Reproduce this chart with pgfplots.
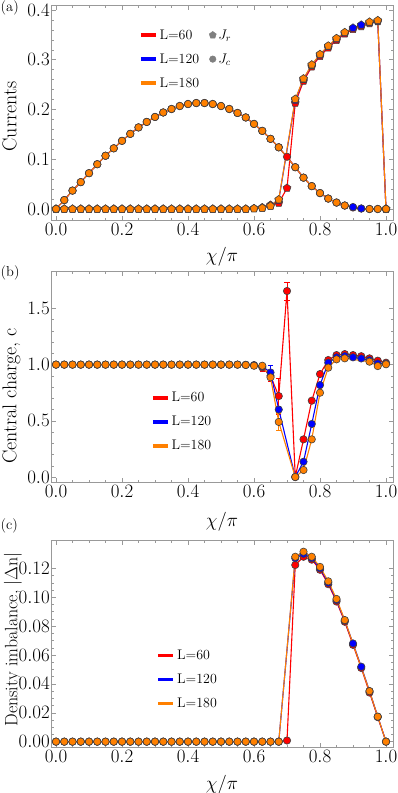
\RequirePackage{fix-cm}
\documentclass[border=0pt]{standalone}
\usepackage{pgfplots}
\usepackage{pgfplotstable}
\pgfplotsset{compat=1.18}
\usetikzlibrary{plotmarks}
\definecolor{mred}{rgb}{1,0,0}
\definecolor{mblue}{rgb}{0,0,1}
\definecolor{morange}{rgb}{1,0.5,0}

\pgfplotstableread{
x c60 c120 c180 r60 r120 r180
0.000 0.000 0.000 0.000 0 0 0
0.025 0.018 0.018 0.018 0 0 0
0.050 0.037 0.037 0.037 0 0 0
0.075 0.054 0.054 0.054 0 0 0
0.100 0.072 0.072 0.072 0 0 0
0.125 0.090 0.090 0.090 0 0 0
0.150 0.107 0.107 0.107 0 0 0
0.175 0.122 0.122 0.122 0 0 0
0.200 0.137 0.137 0.137 0 0 0
0.225 0.151 0.151 0.151 0 0 0
0.250 0.164 0.164 0.164 0 0 0
0.275 0.175 0.175 0.175 0 0 0
0.300 0.185 0.185 0.185 0 0 0
0.325 0.194 0.194 0.194 0 0 0
0.350 0.201 0.201 0.201 0 0 0
0.375 0.207 0.207 0.207 0 0 0
0.400 0.211 0.211 0.211 0 0 0
0.425 0.213 0.213 0.213 0 0 0
0.450 0.213 0.213 0.213 0 0 0
0.475 0.211 0.211 0.211 0 0 0
0.500 0.207 0.207 0.207 0 0 0
0.525 0.201 0.201 0.201 0 0 0
0.550 0.193 0.193 0.193 0 0 0
0.575 0.184 0.184 0.184 0 0 0
0.600 0.171 0.171 0.171 0.001 0.001 0.001
0.625 0.157 0.157 0.157 0.003 0.002 0.002
0.650 0.141 0.141 0.141 0.008 0.006 0.006
0.675 0.124 0.124 0.124 0.012 0.018 0.019
0.700 0.105 nan nan 0.042 nan nan
0.725 0.084 0.084 0.084 0.213 0.219 0.221
0.750 0.063 0.063 0.063 0.257 0.261 0.262
0.775 0.046 0.046 0.046 0.286 0.289 0.290
0.800 0.032 0.032 0.032 0.307 0.310 0.311
0.825 0.021 0.021 0.021 0.324 0.327 0.328
0.850 0.013 0.013 0.013 0.339 0.342 0.343
0.875 0.007 0.007 0.007 0.352 0.354 0.355
0.900 0.003 0.004 nan 0.361 0.364 nan
0.925 0.001 0.001 nan 0.367 0.370 nan
0.950 0.000 0.000 0.000 0.373 0.375 0.376
0.975 0.000 0.000 0.000 0.377 0.378 0.379
1.000 0.000 0.000 0.000 0 0 0
}\tabA

\pgfplotstableread{
x b60 b120 b180
0.000 1.000 1.000 1.000
0.025 1.000 1.000 1.000
0.050 1.000 1.000 1.000
0.075 1.000 1.000 1.000
0.100 1.000 1.000 1.000
0.125 1.000 1.000 1.000
0.150 1.000 1.000 1.000
0.175 1.000 1.000 1.000
0.200 1.000 1.000 1.000
0.225 1.000 1.000 1.000
0.250 1.000 1.000 1.000
0.275 1.000 1.000 1.000
0.300 1.000 1.000 1.000
0.325 1.000 1.000 1.000
0.350 1.000 1.000 1.000
0.375 1.000 1.000 1.000
0.400 1.000 1.000 1.000
0.425 1.000 1.000 1.000
0.450 1.000 1.000 1.000
0.475 1.000 1.000 1.000
0.500 1.000 1.000 1.000
0.525 1.000 1.000 1.000
0.550 1.000 1.000 1.000
0.575 0.998 0.998 0.997
0.600 0.995 0.995 0.990
0.625 0.975 0.985 0.990
0.650 0.900 0.930 0.887
0.675 0.720 0.600 0.490
0.700 1.655 nan nan
0.725 0.000 0.000 0.000
0.750 0.335 0.136 0.062
0.775 0.679 0.472 0.335
0.800 0.916 0.818 0.750
0.825 1.041 1.017 0.973
0.850 1.085 1.065 1.047
0.875 1.094 1.076 1.056
0.900 1.085 1.065 nan
0.925 1.075 1.055 nan
0.950 1.056 1.040 1.026
0.975 1.035 1.010 0.987
1.000 1.017 1.008 1.003
}\tabB

\pgfplotstableread{
x d60 d120 d180
0.000 0 0 0
0.025 0 0 0
0.050 0 0 0
0.075 0 0 0
0.100 0 0 0
0.125 0 0 0
0.150 0 0 0
0.175 0 0 0
0.200 0 0 0
0.225 0 0 0
0.250 0 0 0
0.275 0 0 0
0.300 0 0 0
0.325 0 0 0
0.350 0 0 0
0.375 0 0 0
0.400 0 0 0
0.425 0 0 0
0.450 0 0 0
0.475 0 0 0
0.500 0 0 0
0.525 0 0 0
0.550 0 0 0
0.575 0 0 0
0.600 0 0 0
0.625 0 0 0
0.650 0 0 0
0.675 0 0 0
0.700 0.0008 nan nan
0.725 0.1223 0.1270 0.1280
0.750 0.1280 0.1300 0.1315
0.775 0.1260 0.1270 0.1280
0.800 0.1190 0.1200 0.1210
0.825 0.1090 0.1100 0.1110
0.850 0.0970 0.0980 0.0988
0.875 0.0830 0.0838 0.0842
0.900 0.0670 0.0680 nan
0.925 0.0510 0.0519 nan
0.950 0.0340 0.0350 0.0350
0.975 0.0170 0.0173 0.0173
1.000 0 0 0
}\tabC

\pgfplotsset{
  panel/.style={
    scale only axis, width=342bp,
    xmin=-0.0152, xmax=1.0212,
    xtick={0,0.2,0.4,0.6,0.8,1},
    minor x tick num=3,
    axis line style={draw=black!40},
    tick style={draw=black!40, line width=0.5bp},
    major tick length=4.5bp, minor tick length=2.5bp,
    tick align=inside,
    xticklabel style={/pgf/number format/.cd, fixed, fixed zerofill, precision=1},
    tick label style={font=\fontsize{19}{19}\selectfont},
    yticklabel style={inner xsep=1bp},
    ylabel style={font=\fontsize{20}{20}\selectfont},
    xlabel style={font=\fontsize{19}{19}\selectfont},
    xlabel={$\chi/\pi$},
    legend style={draw=none, fill=none, font=\fontsize{14}{16}\selectfont, anchor=north west, row sep=9bp},
    legend cell align=left,
    unbounded coords=discard,
  },
  ser/.style={color=#1, line width=1.1bp, mark=*, mark size=3.7bp,
    mark options={fill=#1, draw=black!75, line width=0.6bp, solid}},
  serp/.style={color=#1, line width=1.1bp, mark=pentagon*, mark size=4.1bp,
    mark options={fill=#1, draw=black!75, line width=0.6bp, solid}},
  barleg/.style={legend image code/.code={\draw[#1, line width=3.4bp] (0bp,0bp) -- (15bp,0bp);}},
  errs/.style={color=#1, only marks, mark=none, forget plot,
    error bars/.cd, y dir=both, y explicit,
    error bar style={draw=#1, line width=0.8bp},
    error mark options={rotate=90, draw=#1, mark size=2.6bp, line width=0.8bp}},
}

\begin{document}
\begin{tikzpicture}
\path[use as bounding box] (0bp,0bp) rectangle (398bp,-793bp);

% ---------------- (a)
\begin{axis}[panel, at={(51bp,-220bp)}, anchor=south west, height=215bp,
  ymin=-0.0221, ymax=0.410,
  ytick={0,0.1,0.2,0.3,0.4}, minor y tick num=4,
  yticklabel style={/pgf/number format/.cd, fixed, fixed zerofill, precision=1},
  ylabel={Currents},
  ylabel style={at={(axis description cs:-0.1009,0.481)}, anchor=base},
  xlabel style={at={(axis description cs:0.5,-0.170)}, anchor=center},
  legend columns=2,
  legend style={at={(axis description cs:0.2485,0.905)},
    /tikz/every even column/.append style={column sep=8bp}},
]
\addplot[serp=mred, forget plot] table[x=x, y=r60] {\tabA};
\addplot[ser=mred, forget plot] table[x=x, y=c60] {\tabA};
\addplot[serp=mblue, forget plot] table[x=x, y=r120] {\tabA};
\addplot[ser=mblue, forget plot] table[x=x, y=c120] {\tabA};
\addplot[serp=morange, forget plot] table[x=x, y=r180] {\tabA};
\addplot[ser=morange, forget plot] table[x=x, y=c180] {\tabA};
\addlegendimage{barleg=mred}
\addlegendentry{L=60}
\addlegendimage{only marks, mark=pentagon*, mark size=3.7bp, color=black!50, mark options={fill=black!50, draw=black!50}}
\addlegendentry{$J_r$}
\addlegendimage{barleg=mblue}
\addlegendentry{L=120}
\addlegendimage{only marks, mark=*, mark size=3.3bp, color=black!50, mark options={fill=black!50, draw=black!50}}
\addlegendentry{$J_c$}
\addlegendimage{barleg=morange}
\addlegendentry{L=180}
\end{axis}

% ---------------- (b)
\begin{axis}[panel, at={(51bp,-482bp)}, anchor=south west, height=211bp,
  ymin=-0.0445, ymax=1.833,
  ytick={0,0.5,1,1.5}, minor y tick num=4,
  yticklabel style={/pgf/number format/.cd, fixed, fixed zerofill, precision=1},
  ylabel={Central charge, c},
  ylabel style={at={(axis description cs:-0.1009,0.408)}, anchor=base},
  xlabel style={at={(axis description cs:0.5,-0.19)}, anchor=center},
  legend style={at={(axis description cs:0.2836,0.445)}},
]
\addplot[errs=mred] coordinates {(0.625,0.975) +- (0,0.035) (0.65,0.90) +- (0,0.05) (0.675,0.72) +- (0,0.16) (0.7,1.655) +- (0,0.08)};
\addplot[ser=mred, forget plot] table[x=x, y=b60] {\tabB};
\addplot[errs=mblue] coordinates {(0.65,0.93) +- (0,0.065) (0.675,0.60) +- (0,0.03)};
\addplot[ser=mblue, forget plot] table[x=x, y=b120] {\tabB};
\addplot[errs=morange] coordinates {(0.675,0.49) +- (0,0.075)};
\addplot[ser=morange, forget plot] table[x=x, y=b180] {\tabB};
\addlegendimage{barleg=mred}
\addlegendentry{L=60}
\addlegendimage{barleg=mblue}
\addlegendentry{L=120}
\addlegendimage{barleg=morange}
\addlegendentry{L=180}
\end{axis}

% ---------------- (c)
\begin{axis}[panel, at={(51bp,-747bp)}, anchor=south west, height=207bp,
  ymin=-0.0037, ymax=0.1396,
  ytick={0,0.02,0.04,0.06,0.08,0.10,0.12}, minor y tick num=3,
  yticklabel style={/pgf/number format/.cd, fixed, fixed zerofill, precision=2},
  ylabel={Density imbalance, $|\Delta\mathrm{n}|$},
  ylabel style={at={(axis description cs:-0.098,0.52)}, anchor=base, font=\fontsize{18}{18}\selectfont},
  xlabel style={at={(axis description cs:0.5,-0.184)}, anchor=center},
  legend style={at={(axis description cs:0.30,0.49)}},
]
\addplot[ser=mred, forget plot] table[x=x, y=d60] {\tabC};
\addplot[ser=mblue, forget plot] table[x=x, y=d120] {\tabC};
\addplot[ser=morange, forget plot] table[x=x, y=d180] {\tabC};
\addlegendimage{barleg=mred}
\addlegendentry{L=60}
\addlegendimage{barleg=mblue}
\addlegendentry{L=120}
\addlegendimage{barleg=morange}
\addlegendentry{L=180}
\end{axis}

\node[anchor=west, inner sep=0pt, font=\fontsize{14.5}{14.5}\selectfont] at (0.5bp,-8bp) {(a)};
\node[anchor=west, inner sep=0pt, font=\fontsize{14.5}{14.5}\selectfont] at (0.5bp,-273bp) {(b)};
\node[anchor=west, inner sep=0pt, font=\fontsize{14.5}{14.5}\selectfont] at (0.5bp,-526bp) {(c)};
\end{tikzpicture}
\end{document}
